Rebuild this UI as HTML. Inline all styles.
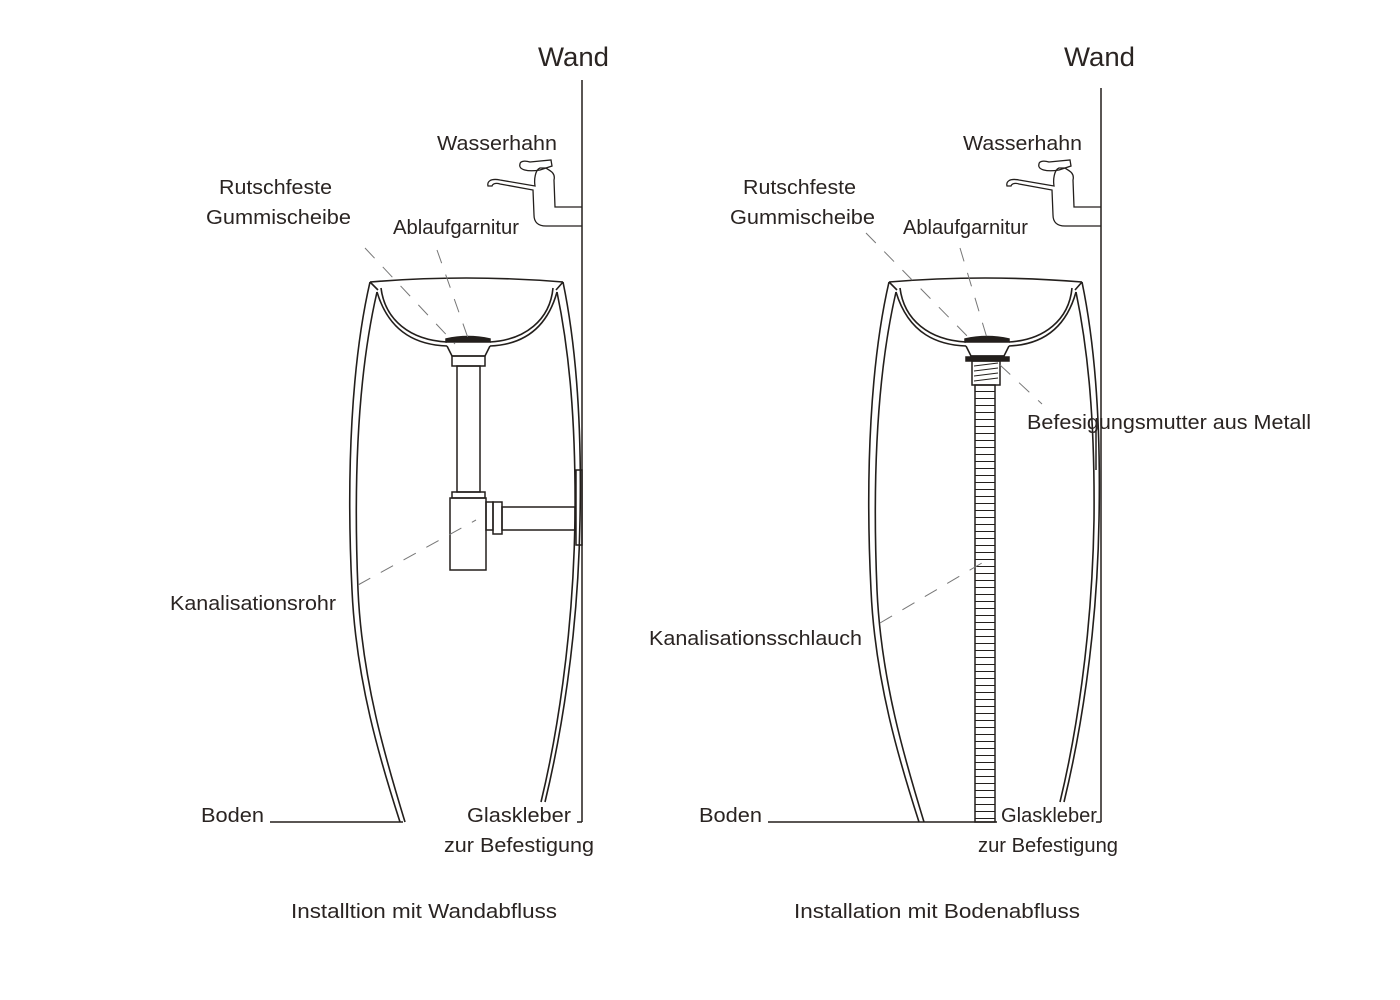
<!DOCTYPE html>
<html><head><style>
html,body{margin:0;padding:0;background:#fff;}
svg{display:block;}
text{font-family:"Liberation Sans",sans-serif;fill:#2a2422;}
</style></head><body>
<svg width="1400" height="1000" viewBox="0 0 1400 1000">
<defs>
<g id="ped" fill="none" stroke="#231f1c" stroke-width="1.6">
  <path d="M370,282 C352,360 346,470 352,590 C356,680 380,760 400,822"/>
  <path d="M377,292 C359,370 353,470 358,590 C362,680 386,760 405,822"/>
  <path d="M563,282 C575,340 582,420 580,520 C578,640 560,740 545,802"/>
  <path d="M557,292 C569,350 576,420 575,520 C573,640 556,740 541,802"/>
  <path d="M370,282 Q466,274 563,282"/>
  <path d="M370,282 L378,290"/><path d="M563,282 L556,290"/>
  <path d="M381,288 C385,320 410,340 447,342"/>
  <path d="M553,288 C550,320 525,340 490,342"/>
  <path d="M377,292 C390,335 420,345 447,346"/>
  <path d="M557,292 C545,335 515,345 490,346"/>
  <path d="M447,346 L452,356 L485,356 L490,346"/>
</g>
<g id="faucet" fill="none" stroke="#231f1c" stroke-width="1.3">
  <path d="M582,207 L555,207 L554,180 C556,172 548,170 546,168 L540,168 C535,170 534,180 535,186 L500,180 C490,178 487,182 488,186 L492,186 C493,183 497,183 500,184 L533,190 L534,215 C534,222 538,226 546,226 L582,226"/>
  <path d="M520,164 C518,170 528,172 540,170 L552,166 L551,160 L530,162 C523,160 520,162 520,164 Z"/>
</g>
</defs>

<use href="#ped"/>
<use href="#faucet"/>
<g fill="none" stroke="#231f1c" stroke-width="1.5">
  <line x1="582" y1="80" x2="582" y2="822"/>
  <line x1="577" y1="822" x2="582" y2="822"/>
  <line x1="270" y1="822" x2="403" y2="822"/>
  <rect x="576" y="470" width="6" height="75"/>
  <path d="M446,339 Q468,334 490,339 L490,342 L446,342 Z" fill="#231f1c"/>
  <rect x="452" y="356" width="33" height="10"/>
  <rect x="457" y="366" width="23" height="126"/>
  <rect x="452" y="492" width="33" height="6"/>
  <rect x="450" y="498" width="36" height="72"/>
  <rect x="486" y="502" width="7" height="28"/>
  <rect x="493" y="502" width="9" height="32"/>
  <rect x="502" y="507" width="73" height="23"/>
</g>
<g stroke="#777" stroke-width="1" stroke-dasharray="14,12" fill="none">
  <line x1="365" y1="248" x2="455" y2="344"/>
  <line x1="437" y1="250" x2="468" y2="338"/>
  <line x1="358" y1="585" x2="476" y2="520"/>
</g>

<use href="#ped" transform="translate(519,0)"/>
<use href="#faucet" transform="translate(519,0)"/>
<g fill="none" stroke="#231f1c" stroke-width="1.5">
  <line x1="1101" y1="88" x2="1101" y2="822"/>
  <line x1="1096" y1="822" x2="1101" y2="822"/>
  <line x1="768" y1="822" x2="997" y2="822"/>
  <line x1="1096" y1="430" x2="1096" y2="470"/>
  <path d="M965,339 Q987,334 1009,339 L1009,342 L965,342 Z" fill="#231f1c"/>
  <rect x="971" y="356" width="33" height="3"/>
  <rect x="966" y="357" width="43" height="4" fill="#231f1c"/>
  <rect x="972" y="361" width="28" height="24"/>
  <path d="M974,366 L998,363 M974,371 L998,368 M974,376 L998,373 M974,381 L998,378" stroke-width="0.9"/>
  <rect x="975" y="385" width="20" height="437"/>
</g>
<svg x="975" y="385" width="20" height="437" overflow="hidden">
  <defs><pattern id="rp" width="20" height="7" patternUnits="userSpaceOnUse"><line x1="0" y1="6.5" x2="20" y2="6.5" stroke="#231f1c" stroke-width="1"/></pattern></defs>
  <rect width="20" height="437" fill="url(#rp)"/>
</svg>
<g stroke="#777" stroke-width="1" stroke-dasharray="14,12" fill="none">
  <line x1="866" y1="233" x2="975" y2="344"/>
  <line x1="960" y1="248" x2="987" y2="338"/>
  <line x1="1000" y1="365" x2="1042" y2="404"/>
  <line x1="880" y1="623" x2="987" y2="560"/>
</g>

<g font-size="20" lengthAdjust="spacingAndGlyphs">
<text x="538" y="66" font-size="27" textLength="71" lengthAdjust="spacingAndGlyphs">Wand</text>
<text x="437" y="150" textLength="120" lengthAdjust="spacingAndGlyphs">Wasserhahn</text>
<text x="219" y="194" textLength="113" lengthAdjust="spacingAndGlyphs">Rutschfeste</text>
<text x="206" y="224" textLength="145" lengthAdjust="spacingAndGlyphs">Gummischeibe</text>
<text x="393" y="234" textLength="126" lengthAdjust="spacingAndGlyphs">Ablaufgarnitur</text>
<text x="170" y="610" textLength="166" lengthAdjust="spacingAndGlyphs">Kanalisationsrohr</text>
<text x="201" y="822" textLength="63" lengthAdjust="spacingAndGlyphs">Boden</text>
<text x="467" y="822" textLength="104" lengthAdjust="spacingAndGlyphs">Glaskleber</text>
<text x="444" y="852" textLength="150" lengthAdjust="spacingAndGlyphs">zur Befestigung</text>
<text x="291" y="918" textLength="266" lengthAdjust="spacingAndGlyphs">Installtion mit Wandabfluss</text>

<text x="1064" y="66" font-size="27" textLength="71" lengthAdjust="spacingAndGlyphs">Wand</text>
<text x="963" y="150" textLength="119" lengthAdjust="spacingAndGlyphs">Wasserhahn</text>
<text x="743" y="194" textLength="113" lengthAdjust="spacingAndGlyphs">Rutschfeste</text>
<text x="730" y="224" textLength="145" lengthAdjust="spacingAndGlyphs">Gummischeibe</text>
<text x="903" y="234" textLength="125" lengthAdjust="spacingAndGlyphs">Ablaufgarnitur</text>
<text x="1027" y="429" textLength="284" lengthAdjust="spacingAndGlyphs">Befesigungsmutter aus Metall</text>
<text x="649" y="645" textLength="213" lengthAdjust="spacingAndGlyphs">Kanalisationsschlauch</text>
<text x="699" y="822" textLength="63" lengthAdjust="spacingAndGlyphs">Boden</text>
<text x="1001" y="822" textLength="96" lengthAdjust="spacingAndGlyphs">Glaskleber</text>
<text x="978" y="852" textLength="140" lengthAdjust="spacingAndGlyphs">zur Befestigung</text>
<text x="794" y="918" textLength="286" lengthAdjust="spacingAndGlyphs">Installation mit Bodenabfluss</text>
</g>
</svg>
</body></html>
